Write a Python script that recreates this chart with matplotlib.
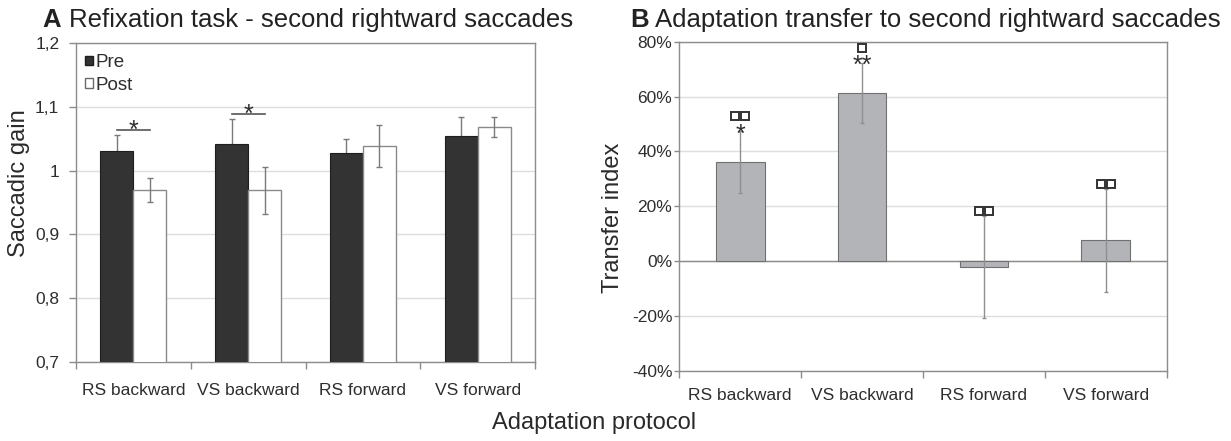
import matplotlib
matplotlib.use("Agg")
import matplotlib.pyplot as plt
from matplotlib.patches import Patch
from matplotlib.transforms import offset_copy
import numpy as np

plt.rcParams["font.family"] = ["Liberation Sans", "DejaVu Sans"]

# ---- data ---------------------------------------------------------------
categories = ["RS backward", "VS backward", "RS forward", "VS forward"]

gain_pre = [1.030, 1.042, 1.028, 1.055]
gain_pre_err = [0.026, 0.039, 0.022, 0.029]
gain_post = [0.969, 0.969, 1.039, 1.068]
gain_post_err = [0.019, 0.037, 0.033, 0.016]
gain_sig = ["*", "*", "", ""]          # pre vs post

gain_ticks = [0.7, 0.8, 0.9, 1.0, 1.1, 1.2]
gain_tick_labels = ["0,7", "0,8", "0,9", "1", "1,1", "1,2"]

transfer = [36.0, 61.3, -2.1, 7.5]       # percent
transfer_err = [11.3, 11.1, 18.6, 18.8]
transfer_stars = ["*", "**", "", ""]
transfer_squares = [2, 1, 2, 2]

transfer_ticks = [-40, -20, 0, 20, 40, 60, 80]

# ---- style --------------------------------------------------------------
W, H = 1231, 441
TEXT = "#2e2e2e"
FRAME = "#8c8c8c"
GRID = "#dedede"
PX = 0.72  # points per pixel at 100 dpi
STAR_SIZE = 18
STAR_MID = 0.58 * STAR_SIZE / PX  # asterisk centre above baseline, pixels

fig = plt.figure(figsize=(W / 100, H / 100), dpi=100)
axA = fig.add_axes([76 / W, 1 - 362 / H, 459 / W, 319 / H])
axB = fig.add_axes([679.3 / W, 1 - 370.7 / H, 487.4 / W, 329 / H])

x = np.arange(len(categories))


def frame(ax, xlabel_pad):
    for s in ax.spines.values():
        s.set_color(FRAME)
        s.set_linewidth(1.0)
    ax.set_xlim(-0.5, len(categories) - 0.5)
    ax.set_xticks(x, categories)
    ax.set_xticks(np.arange(len(categories) + 1) - 0.5, minor=True)
    ax.tick_params(axis="x", which="major", length=0, pad=xlabel_pad,
                   labelsize=12.5, labelcolor=TEXT)
    ax.tick_params(axis="x", which="minor", length=5, color=FRAME, width=1)
    ax.grid(axis="y", color=GRID, lw=1)
    ax.set_axisbelow(True)


# ---- panel A: saccadic gain ---------------------------------------------
bw = 0.288
axA.bar(x - bw / 2, gain_pre, bw, color="#333333", edgecolor="#1e1e1e",
        lw=0.8, zorder=3)
axA.bar(x + bw / 2, gain_post, bw, color="white", edgecolor="#8a8a8a",
        lw=1.0, zorder=3)
axA.errorbar(x - bw / 2, gain_pre, yerr=gain_pre_err, fmt="none",
             ecolor="#7a7a7a", elinewidth=1, capsize=2.5, capthick=1, zorder=2)
axA.errorbar(x + bw / 2, gain_post, yerr=gain_post_err, fmt="none",
             ecolor="#7a7a7a", elinewidth=1, capsize=2.5, capthick=1, zorder=4)

axA.set_ylim(0.7, 1.2)
axA.set_yticks(gain_ticks, gain_tick_labels)
axA.tick_params(axis="y", length=5, color=FRAME, width=1, pad=7,
                labelsize=12.5, labelcolor=TEXT)
frame(axA, 15)

star_tr = offset_copy(axA.transData, fig, y=(6.7 - STAR_MID) * PX,
                      units="points")
for i, mark in enumerate(gain_sig):
    if not mark:
        continue
    top = max(gain_pre[i] + gain_pre_err[i], gain_post[i] + gain_post_err[i])
    yline = top + 0.0075
    axA.plot([x[i] - bw / 2, x[i] + bw / 2], [yline, yline], color="#555555",
             lw=1.2, zorder=5)
    axA.text(x[i], yline, mark, transform=star_tr, ha="center", va="baseline",
             fontsize=STAR_SIZE, color=TEXT, zorder=5)

axA.legend(handles=[Patch(facecolor="#333333", edgecolor="#1e1e1e", label="Pre"),
                    Patch(facecolor="white", edgecolor="#6a6a6a", label="Post")],
           loc="upper left", bbox_to_anchor=(0.02, 0.965), frameon=False,
           fontsize=13.5, handlelength=0.4, handleheight=0.4,
           handletextpad=0.15, labelspacing=0.3, borderpad=0,
           borderaxespad=0, labelcolor=TEXT)

# ---- panel B: transfer index --------------------------------------------
axB.bar(x, transfer, 0.40, color="#b3b4b8", edgecolor="#707070", lw=0.8,
        zorder=3)
axB.errorbar(x, transfer, yerr=transfer_err, fmt="none", ecolor="#8f8f8f",
             elinewidth=1, capsize=1.5, capthick=1, zorder=4)
axB.axhline(0, color=FRAME, lw=1, zorder=2)
axB.set_ylim(-40, 80)
axB.set_yticks(transfer_ticks, [f"{v}%" for v in transfer_ticks])
axB.tick_params(axis="y", length=3.5, color=FRAME, width=1, pad=1.5,
                labelsize=12.5, labelcolor=TEXT)
frame(axB, 12.5)

for i in range(len(categories)):
    top = transfer[i] + transfer_err[i]
    if transfer_stars[i]:
        tr = offset_copy(axB.transData, fig, y=(3.8 - STAR_MID) * PX,
                         units="points")
        axB.text(x[i], top, transfer_stars[i], transform=tr, ha="center",
                 va="baseline", fontsize=STAR_SIZE, color=TEXT, zorder=5)
        sq_dy = 15
    else:
        sq_dy = 4.5
    n = transfer_squares[i]
    for k in range(n):
        dx = (k - (n - 1) / 2) * 10.5
        tr = offset_copy(axB.transData, fig, x=dx * PX, y=sq_dy * PX,
                         units="points")
        axB.plot([x[i]], [top], transform=tr, marker="s", ms=5.6,
                 mfc="white", mec="#333333", mew=1.4, ls="none", zorder=6,
                 clip_on=False)

# ---- titles and axis labels ---------------------------------------------
fig.text(42.7 / W, 1 - 27 / H, "A", fontsize=18.5, fontweight="bold",
         color="#222222", va="baseline")
fig.text(69 / W, 1 - 27 / H, "Refixation task - second rightward saccades",
         fontsize=18.5, color="#222222", va="baseline")
fig.text(630 / W, 1 - 27 / H, "B", fontsize=18.5, fontweight="bold",
         color="#222222", va="baseline")
fig.text(655 / W, 1 - 27 / H, "Adaptation transfer to second rightward saccades",
         fontsize=18.5, color="#222222", va="baseline")

fig.text(19 / W, 1 - 183 / H, "Saccadic gain", rotation=90, fontsize=17,
         color="#2a2a2a", ha="center", va="center")
fig.text(613 / W, 1 - 218 / H, "Transfer index", rotation=90, fontsize=17,
         color="#2a2a2a", ha="center", va="center")
fig.text(594 / W, 1 - 423 / H, "Adaptation protocol", fontsize=17,
         color="#2a2a2a", ha="center", va="center")

fig.savefig("out.png", dpi=100, facecolor="white")
